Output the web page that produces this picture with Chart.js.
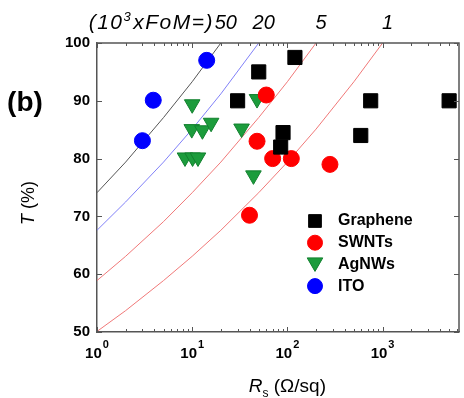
<!DOCTYPE html>
<html>
<head>
<meta charset="utf-8">
<script src="https://cdn.jsdelivr.net/npm/chart.js@4.4.1/dist/chart.umd.min.js"></script>
<style>
  html, body { margin: 0; padding: 0; background: #fff; overflow: hidden; }
  #wrap { width: 464px; height: 398px; overflow: hidden; }
  canvas { display: block; }
</style>
</head>
<body>
<div id="wrap"><canvas id="fom-chart" width="470" height="398"></canvas></div>
<script>
// Data: sheet resistance Rs (ohm/sq) vs transmittance T (%)
const grapheneRs = [30, 50, 120, 90, 85, 750, 590, 5000];
const grapheneT = [90, 95, 97.5, 84.5, 82, 90, 84, 90];
const swntRs = [60, 48, 70, 110, 40, 280];
const swntT = [91, 83, 80, 80, 70.2, 79];
const agnwRs = [10, 9.9, 12.8, 15.8, 8.4, 10.1, 11.5, 33, 48, 44];
const agnwT = [89.4, 85.1, 84.9, 86.2, 80.2, 80.2, 80.2, 85.2, 90.3, 77.1];
const itoRs = [3, 3.9, 14.2];
const itoT = [83.1, 90.1, 97];

// constant figure-of-merit curves (10^3 x FoM = 50, 20, 5, 1)
const fomLabels = ['50', '20', '5', '1'];
const curveRs = [1, 2, 5, 10, 20, 50, 100, 200, 500, 1000];
const fom50T = [74.1, 79.4, 87.1, 93.3, 100];
const fom20T = [67.6, 72.5, 79.4, 85.1, 91.2, 100];
const fom5T = [58.9, 63.1, 69.1, 74.1, 79.4, 87.1, 93.3, 100];
const fom1T = [50.1, 53.7, 58.9, 63.1, 67.6, 74.1, 79.4, 85.1, 93.3, 100];

// axes
const xTicks = [1, 10, 100, 1000];
const yTicks = [50, 60, 70, 80, 90, 100];

const FONT = '"Liberation Sans", Arial, sans-serif';
const toPts = (xs, ys) => ys.map((v, i) => ({ x: xs[i], y: v }));
const curves = [fom50T, fom20T, fom5T, fom1T];
const curveColors = ['#555555', '#8080f8', '#f07878', '#f07878'];

const markers = [
  { label: 'Graphene', data: toPts(grapheneRs, grapheneT), pointStyle: 'rect', pointRadius: 10, backgroundColor: '#000', borderColor: '#000' },
  { label: 'SWNTs', data: toPts(swntRs, swntT), pointStyle: 'circle', pointRadius: 8, backgroundColor: '#ff0000', borderColor: '#ff0000' },
  { label: 'AgNWs', data: toPts(agnwRs, agnwT), pointStyle: 'triangle', rotation: 180, pointRadius: 9, backgroundColor: '#1c9c3c', borderColor: '#12802e' },
  { label: 'ITO', data: toPts(itoRs, itoT), pointStyle: 'circle', pointRadius: 8, backgroundColor: '#0000ff', borderColor: '#0000ff' }
].map(d => Object.assign(d, { showLine: false, borderWidth: 1, clip: false }));

const lines = curves.map((t, i) => ({
  label: 'FoM ' + fomLabels[i],
  data: toPts(curveRs, t),
  showLine: true,
  pointRadius: 0,
  borderWidth: 1,
  borderColor: curveColors[i],
  fill: false
}));

const figureText = {
  id: 'figureText',
  afterDraw(chart) {
    const { ctx, chartArea: a, scales: { x, y } } = chart;
    ctx.save();

    // top / right frame
    ctx.strokeStyle = '#555';
    ctx.lineWidth = 1.5;
    ctx.beginPath();
    ctx.moveTo(a.left, a.top);
    ctx.lineTo(a.right, a.top);
    ctx.lineTo(a.right, a.bottom);
    ctx.stroke();

    // inward ticks
    ctx.lineWidth = 1;
    ctx.beginPath();
    for (let d = 0; d < 4; d++) {
      for (let m = 1; m < 10; m++) {
        const v = m * Math.pow(10, d);
        if (v > x.max) break;
        const px = Math.round(x.getPixelForValue(v)) + 0.5;
        const len = m === 1 ? 5 : 3;
        ctx.moveTo(px, a.bottom); ctx.lineTo(px, a.bottom - len);
        ctx.moveTo(px, a.top); ctx.lineTo(px, a.top + len);
      }
    }
    yTicks.forEach(v => {
      const py = Math.round(y.getPixelForValue(v)) + 0.5;
      ctx.moveTo(a.left, py); ctx.lineTo(a.left + 5, py);
      ctx.moveTo(a.right, py); ctx.lineTo(a.right - 5, py);
    });
    ctx.stroke();

    ctx.fillStyle = '#000';
    ctx.textAlign = 'left';
    ctx.textBaseline = 'alphabetic';

    // x tick labels 10^n
    xTicks.forEach(v => {
      const px = x.getPixelForValue(v);
      const exp = String(Math.round(Math.log10(v)));
      ctx.font = 'bold 15px ' + FONT;
      const w1 = ctx.measureText('10').width;
      ctx.font = 'bold 11px ' + FONT;
      const w2 = ctx.measureText(exp).width;
      const x0 = px - (w1 + w2 + 1) / 2;
      ctx.font = 'bold 15px ' + FONT;
      ctx.fillText('10', x0, 358);
      ctx.font = 'bold 11px ' + FONT;
      ctx.fillText(exp, x0 + w1 + 1, 348);
    });

    // x title  R_s (Ω/sq)
    ctx.font = 'italic 19px ' + FONT;
    const wR = ctx.measureText('R').width;
    ctx.font = '12px ' + FONT;
    const wS = ctx.measureText('s').width;
    ctx.font = '19px ' + FONT;
    const wRest = ctx.measureText(' (\u03A9/sq)').width;
    const tx = x.getPixelForValue(100) - (wR + wS + wRest) / 2;
    ctx.font = 'italic 19px ' + FONT;
    ctx.fillText('R', tx, 392);
    ctx.font = '12px ' + FONT;
    ctx.fillText('s', tx + wR, 397);
    ctx.font = '19px ' + FONT;
    ctx.fillText(' (\u03A9/sq)', tx + wR + wS, 392);

    // y title  T (%)
    ctx.save();
    ctx.translate(29, 203);
    ctx.rotate(-Math.PI / 2);
    ctx.textBaseline = 'middle';
    ctx.font = 'italic 18px ' + FONT;
    const wT = ctx.measureText('T').width;
    ctx.font = '18px ' + FONT;
    const wP = ctx.measureText(' (%)').width;
    ctx.font = 'italic 18px ' + FONT;
    ctx.fillText('T', -(wT + wP) / 2, 0);
    ctx.font = '18px ' + FONT;
    ctx.fillText(' (%)', -(wT + wP) / 2 + wT, 0);
    ctx.restore();

    // panel label
    ctx.font = 'bold 28px ' + FONT;
    ctx.textAlign = 'center';
    ctx.textBaseline = 'middle';
    ctx.fillText('(b)', 25, 103);

    // FoM labels on top, at the Rs where each curve reaches T = 100 %
    ctx.textBaseline = 'alphabetic';
    ctx.font = 'italic 20px ' + FONT;
    curves.forEach((t, i) => {
      const px = x.getPixelForValue(curveRs[t.length - 1]) + 5;
      ctx.fillText(fomLabels[i], px, 29);
    });
    ctx.textAlign = 'left';
    ctx.letterSpacing = '1.5px';
    const p1 = '(10', p2 = '3', p3 = 'xFoM=)';
    ctx.font = 'italic 21px ' + FONT;
    const w1 = ctx.measureText(p1).width, w3 = ctx.measureText(p3).width;
    ctx.font = 'italic 13px ' + FONT;
    const w2 = ctx.measureText(p2).width;
    const sx = 214 - (w1 + w2 + w3 + 1);
    ctx.font = 'italic 21px ' + FONT;
    ctx.fillText(p1, sx, 29);
    ctx.font = 'italic 13px ' + FONT;
    ctx.fillText(p2, sx + w1, 21);
    ctx.font = 'italic 21px ' + FONT;
    ctx.fillText(p3, sx + w1 + w2 + 1, 29);
    ctx.letterSpacing = '0px';

    // legend
    const lx = 315, ly = 221, step = 21.7;
    const legendR = [9, 7.5, 9, 7.5];
    markers.forEach((d, i) => {
      const cy = ly + i * step;
      ctx.fillStyle = d.backgroundColor;
      ctx.strokeStyle = d.borderColor;
      ctx.lineWidth = 1;
      Chart.helpers.drawPoint(ctx, {
        pointStyle: d.pointStyle, radius: legendR[i], rotation: d.rotation || 0, borderWidth: 1
      }, lx, cy + (d.pointStyle === 'triangle' ? -2 : 0));
      ctx.fillStyle = '#000';
      ctx.font = 'bold 16px ' + FONT;
      ctx.textBaseline = 'middle';
      ctx.fillText(d.label, 338, cy);
    });

    ctx.restore();
  }
};

new Chart(document.getElementById('fom-chart'), {
  type: 'scatter',
  data: { datasets: markers.concat(lines) },
  options: {
    responsive: false,
    animation: false,
    events: [],
    layout: { padding: { top: 43, left: 0, right: 3, bottom: 0 } },
    plugins: { legend: { display: false }, tooltip: { enabled: false } },
    scales: {
      x: {
        type: 'logarithmic',
        min: 1,
        max: 6350,
        bounds: 'data',
        grid: { display: false, drawTicks: false },
        border: { display: true, color: '#555', width: 1.5 },
        ticks: { display: false },
        afterFit: s => { s.height = 66; }
      },
      y: {
        min: 50,
        max: 100,
        grid: { display: false, drawTicks: false },
        border: { display: true, color: '#555', width: 1.5 },
        ticks: {
          stepSize: 10,
          color: '#000',
          padding: 7,
          font: { family: FONT, size: 15, weight: 'bold' }
        },
        afterFit: s => { s.width = 97; }
      }
    }
  },
  plugins: [figureText]
});
</script>
</body>
</html>
